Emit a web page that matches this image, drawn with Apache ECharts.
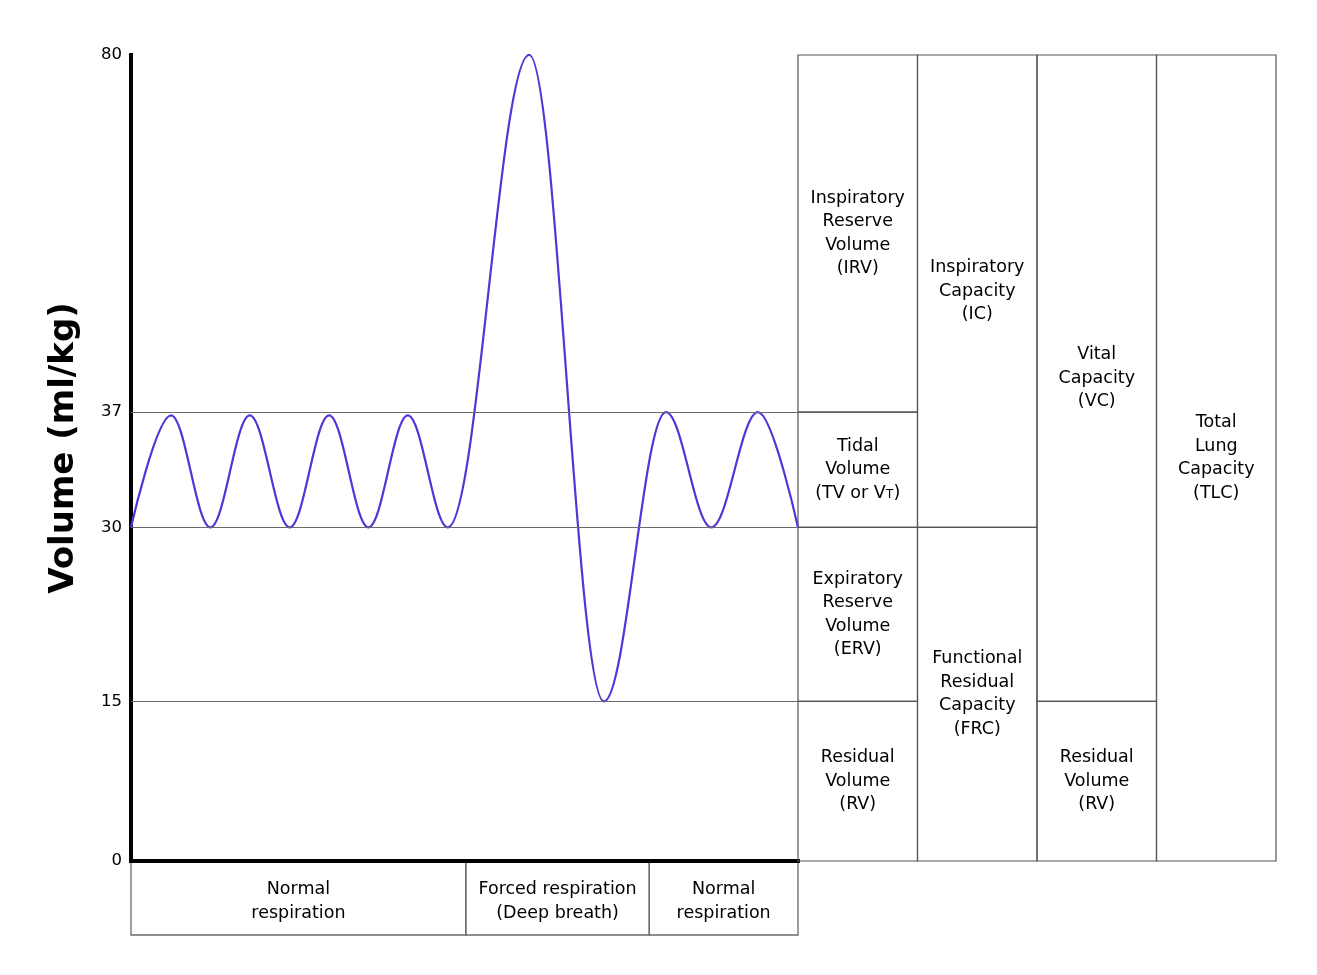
<!DOCTYPE html>
<html>
<head>
<meta charset="utf-8">
<script src="https://cdn.jsdelivr.net/npm/echarts@6/dist/echarts.min.js"></script>
<style>
html,body{margin:0;padding:0;background:#fff;}
#chart{width:1317px;height:975px;}
</style>
</head>
<body>
<div id="chart"></div>
<script>
// ---- Data ----
// Y axis tick values (ml/kg)
const volumeTicks = [0, 15, 30, 37, 80];
// Where each tick sits along the axis, per mille of axis length (the reference uses uneven spacing)
const tickPlacement = [0, 198, 414, 557, 1000];

// Breathing trace: turning points (time in arbitrary units, volume in ml/kg)
const breathTime   = [0, 6.0, 11.9, 17.8, 23.8, 29.7, 35.6, 41.5, 47.5, 59.7, 70.9, 80.2, 87.0, 94.0, 100];
const breathVolume = [30, 36.8, 30, 36.8, 30, 36.8, 30, 36.8, 30, 80, 15, 37, 30, 37, 30];

// Reference levels drawn across the trace
const referenceLevels = [37, 30, 15];

// Phases under the trace
const phaseStart  = [0, 50.2, 77.7];
const phaseEnd    = [50.2, 77.7, 100];
const phaseLabels = ['Normal\nrespiration', 'Forced respiration\n(Deep breath)', 'Normal\nrespiration'];

// Volumes and capacities table
const capacityColumn = [0, 0, 0, 0, 1, 1, 2, 2, 3];
const capacityLow    = [37, 30, 15, 0, 30, 0, 15, 0, 0];
const capacityHigh   = [80, 37, 30, 15, 80, 30, 80, 15, 80];
const capacityLabels = [
  'Inspiratory\nReserve\nVolume\n(IRV)',
  'Tidal\nVolume\n(TV or V{sub|T})',
  'Expiratory\nReserve\nVolume\n(ERV)',
  'Residual\nVolume\n(RV)',
  'Inspiratory\nCapacity\n(IC)',
  'Functional\nResidual\nCapacity\n(FRC)',
  'Vital\nCapacity\n(VC)',
  'Residual\nVolume\n(RV)',
  'Total\nLung\nCapacity\n(TLC)'
];

// ---- Helpers ----
function toDisplay(v) {
  for (let i = 0; i < volumeTicks.length - 1; i++) {
    const a = volumeTicks[i], b = volumeTicks[i + 1];
    if (v <= b || i === volumeTicks.length - 2) {
      return tickPlacement[i] + (v - a) / (b - a) * (tickPlacement[i + 1] - tickPlacement[i]);
    }
  }
  return v;
}
function tickLabel(val) {
  for (let j = 0; j < tickPlacement.length; j++) {
    if (Math.abs(tickPlacement[j] - val) < 1e-6) return String(volumeTicks[j]);
  }
  return '';
}

const FONT = '"DejaVu Sans", "Noto Sans", sans-serif';
const phaseBoxHeight = 74;

const chart = echarts.init(document.getElementById('chart'), null, { renderer: 'canvas' });

chart.setOption({
  animation: false,
  backgroundColor: '#fff',
  grid: [
    { left: 131, top: 55, width: 667, height: 806 },
    { left: 798, top: 55, width: 478, height: 806 }
  ],
  xAxis: [
    {
      gridIndex: 0, type: 'value', min: 0, max: 100,
      axisLine: { show: true, onZero: false, lineStyle: { color: '#000', width: 4, cap: 'square' } },
      axisTick: { show: false }, axisLabel: { show: false }, splitLine: { show: false }
    },
    {
      gridIndex: 1, type: 'value', min: 0, max: 4, show: false,
      splitLine: { show: false }
    }
  ],
  yAxis: [
    {
      gridIndex: 0, type: 'value', min: 0, max: 1000,
      name: 'Volume (ml/kg)',
      nameLocation: 'middle',
      nameGap: 50,
      nameTextStyle: { fontFamily: FONT, fontWeight: 'bold', fontSize: 34, color: '#000', padding: [0, 0, 0, 20] },
      axisLine: { show: true, onZero: false, lineStyle: { color: '#000', width: 4, cap: 'square' } },
      axisTick: { show: false },
      splitLine: { show: false },
      axisLabel: {
        customValues: tickPlacement,
        formatter: tickLabel,
        color: '#000', fontFamily: FONT, fontSize: 16.5, margin: 9
      }
    },
    {
      gridIndex: 1, type: 'value', min: 0, max: 1000, show: false,
      splitLine: { show: false }
    }
  ],
  series: [
    {
      type: 'line',
      xAxisIndex: 0, yAxisIndex: 0,
      data: breathTime.map((t, i) => [t, toDisplay(breathVolume[i])]),
      smooth: 0.36,
      smoothMonotone: 'x',
      symbol: 'none',
      lineStyle: { color: '#5533d6', width: 2.2 },
      z: 3,
      markLine: {
        silent: true,
        symbol: ['none', 'none'],
        precision: 4,
        label: { show: false },
        lineStyle: { color: '#6a6a6a', width: 1.2, type: 'solid' },
        data: referenceLevels.map(v => ({ yAxis: toDisplay(v) }))
      }
    },
    {
      type: 'custom',
      xAxisIndex: 0, yAxisIndex: 0,
      clip: false,
      silent: true,
      data: phaseStart.map((s, i) => [s, phaseEnd[i], 0]),
      encode: { x: [0, 1], y: 2 },
      renderItem: function (params, api) {
        const i = params.dataIndex;
        const a = api.coord([api.value(0), 0]);
        const b = api.coord([api.value(1), 0]);
        const top = a[1] + 2;
        const bot = a[1] + phaseBoxHeight;
        return {
          type: 'group',
          children: [
            {
              type: 'polyline',
              shape: { points: [[a[0], top], [a[0], bot], [b[0], bot], [b[0], top]] },
              style: { stroke: '#6a6a6a', fill: null, lineWidth: 1.3 }
            },
            {
              type: 'text',
              style: {
                x: (a[0] + b[0]) / 2, y: (top + bot) / 2 + 2,
                text: phaseLabels[i],
                align: 'center', verticalAlign: 'middle',
                fontFamily: FONT, fontSize: 17.5, lineHeight: 24, fill: '#000'
              }
            }
          ]
        };
      }
    },
    {
      type: 'custom',
      xAxisIndex: 1, yAxisIndex: 1,
      clip: false,
      silent: true,
      data: capacityColumn.map((c, i) => [c, c + 1, toDisplay(capacityLow[i]), toDisplay(capacityHigh[i])]),
      encode: { x: [0, 1], y: [2, 3] },
      renderItem: function (params, api) {
        const i = params.dataIndex;
        const p0 = api.coord([api.value(0), api.value(3)]);
        const p1 = api.coord([api.value(1), api.value(2)]);
        return {
          type: 'group',
          children: [
            {
              type: 'rect',
              shape: { x: p0[0], y: p0[1], width: p1[0] - p0[0], height: p1[1] - p0[1] },
              style: { stroke: '#555', fill: null, lineWidth: 1.2 }
            },
            {
              type: 'text',
              style: {
                x: (p0[0] + p1[0]) / 2, y: (p0[1] + p1[1]) / 2,
                text: capacityLabels[i],
                align: 'center', verticalAlign: 'middle',
                fontFamily: FONT, fontSize: 17.5, lineHeight: 23.5, fill: '#000',
                rich: {
                  sub: { fontFamily: FONT, fontSize: 12.5, lineHeight: 23.5, fill: '#000', padding: [3, 0, 0, 0] }
                }
              }
            }
          ]
        };
      }
    }
  ]
});
</script>
</body>
</html>
